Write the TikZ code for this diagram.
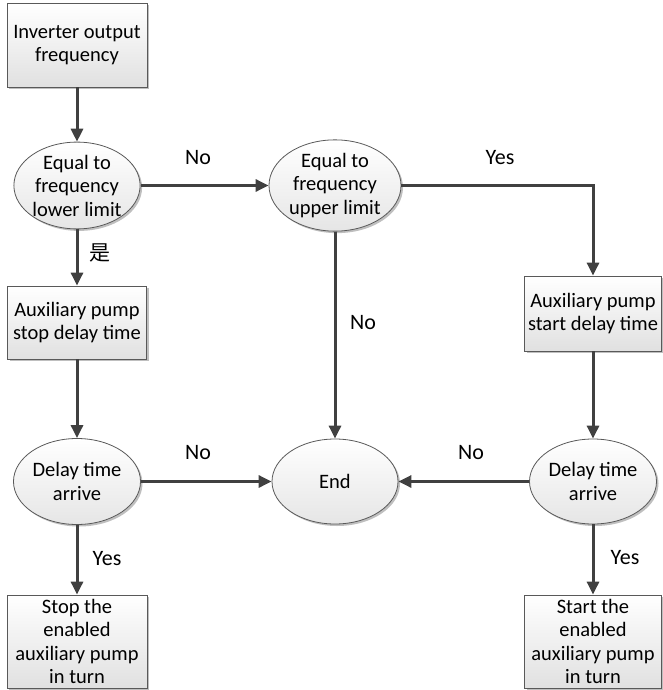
\documentclass[tikz,border=0pt]{standalone}
\usepackage{fontspec}
\setmainfont{Carlito}
\newfontfamily\cjk{Noto Sans CJK SC}
\usetikzlibrary{arrows.meta,shadows,shapes.geometric}
\begin{document}
\begin{tikzpicture}[x=1pt,y=-1pt,
  base/.style={draw=black!65, line width=0.8pt, top color=white, bottom color=black!12,
    drop shadow={shadow xshift=2pt,shadow yshift=-2pt,opacity=0.25,fill=black},
    align=center, inner sep=0pt, text=black, font=\fontsize{20.5}{23.5}\selectfont},
  boxnode/.style={base, rectangle},
  ellnode/.style={base, ellipse, top color=white, bottom color=black!10},
  arr/.style={draw=black!75, line width=3pt, -{Triangle[length=13pt,width=12pt]}},
  lab/.style={font=\fontsize{22}{26}\selectfont, inner sep=0pt}]
\useasboundingbox (0,0) rectangle (662,690);

% nodes
\node[boxnode, minimum width=140pt, minimum height=84pt] (b1) at (77,45) {Inverter output\\frequency};
\node[ellnode, minimum width=119pt, minimum height=82pt] (e1) at (77,185.5) {Equal to\\frequency\\lower limit};
\node[ellnode, minimum width=132pt, minimum height=76pt] (e2) at (335,185.5) {Equal to\\frequency\\upper limit};
\node[boxnode, minimum width=139pt, minimum height=73pt] (b2) at (77,322.5) {Auxiliary pump\\stop delay time};
\node[boxnode, minimum width=137pt, minimum height=75pt] (b3) at (593,313.5) {Auxiliary pump\\start delay time};
\node[ellnode, minimum width=127pt, minimum height=86pt] (e3) at (77,481.5) {Delay time\\arrive};
\node[ellnode, minimum width=126pt, minimum height=85pt] (end) at (335,481.5) {End};
\node[ellnode, minimum width=127pt, minimum height=85pt] (e4) at (593,481.5) {Delay time\\arrive};
\node[boxnode, minimum width=140pt, minimum height=93pt] (b4) at (77,641.5) {Stop the\\enabled\\auxiliary pump\\in turn};
\node[boxnode, minimum width=137pt, minimum height=93pt] (b5) at (593,641.5) {Start the\\enabled\\auxiliary pump\\in turn};

% connectors
\draw[arr] (b1) -- (e1);
\draw[arr] (e1) -- (e2);
\draw[arr] (e2.east) -| (b3.north);
\draw[arr] (e1) -- (b2);
\draw[arr] (e2) -- (end);
\draw[arr] (b2) -- (e3);
\draw[arr] (b3) -- (e4);
\draw[arr] (e3) -- (end);
\draw[arr] (e4) -- (end);
\draw[arr] (e3) -- (b4);
\draw[arr] (e4) -- (b5);

% labels
\node[lab] (l1) at (198,158) {No};
\node[lab] (l2) at (500,158) {Yes};
\node[inner sep=0pt, font=\cjk\fontsize{21}{24}\selectfont] (l3) at (100,253) {是};
\node[lab] (l4) at (363,323) {No};
\node[lab] (l5) at (198,453) {No};
\node[lab] (l6) at (471,453) {No};
\node[lab] (l7) at (107,559) {Yes};
\node[lab] (l8) at (625,558) {Yes};
\end{tikzpicture}
\end{document}
